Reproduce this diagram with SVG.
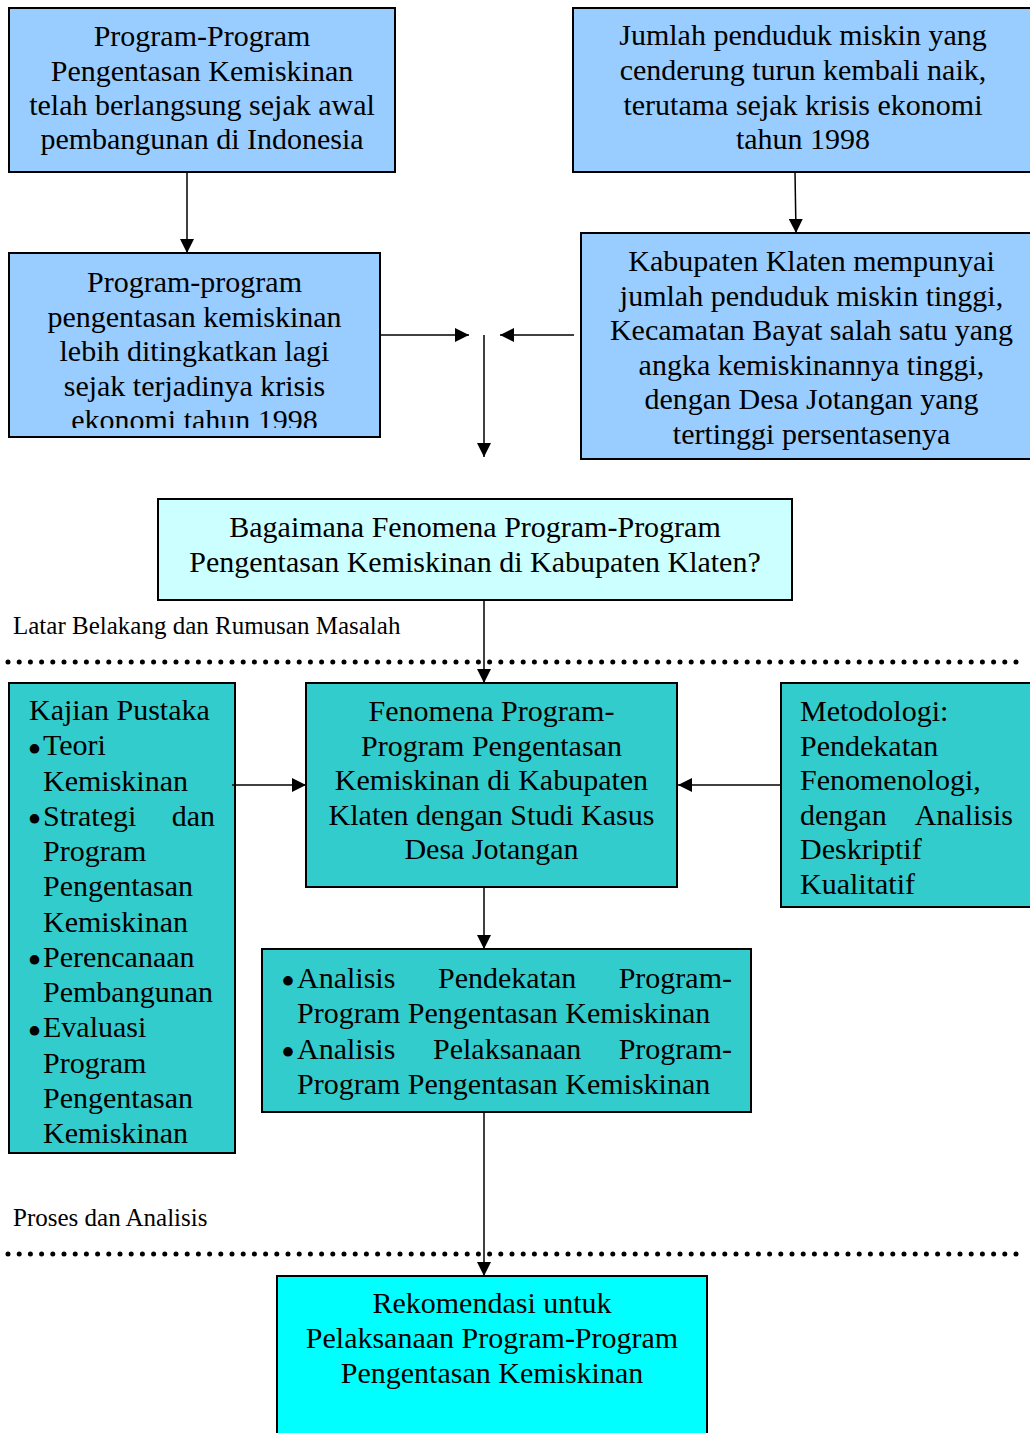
<svg xmlns="http://www.w3.org/2000/svg" width="1030" height="1433" viewBox="0 0 1030 1433">
<style>
.box{stroke:#000;stroke-width:2}
.blue{fill:#99CCFF}
.pale{fill:#CCFFFF}
.teal{fill:#33CCCC}
.cyan{fill:#00FFFF}
text{font-family:"Liberation Serif","Times New Roman",serif;font-size:30px;fill:#000}
.c{text-anchor:middle}
.e{text-anchor:end}
.lbl{font-size:25px}
.b{font-size:40px}
.conn line{stroke:#000;stroke-width:1.5;marker-end:url(#arr)}
.dots{stroke:#000;stroke-width:5;stroke-linecap:round;stroke-dasharray:0 11.2;fill:none}
</style>
<defs>
<marker id="arr" markerUnits="userSpaceOnUse" markerWidth="14" markerHeight="14" viewBox="0 0 14 14" refX="14" refY="7" orient="auto">
<path d="M0,0 L14,7 L0,14 z" fill="#000"/>
</marker>
<clipPath id="clip2"><rect x="9" y="253" width="371" height="175"/></clipPath>
</defs>
<rect width="1030" height="1433" fill="#fff"/>

<g id="n1">
<rect class="box blue" x="9" y="8" width="386" height="164"/>
<text class="c" x="202" y="46">Program-Program</text>
<text class="c" x="202" y="81">Pengentasan Kemiskinan</text>
<text class="c" x="202" y="115">telah berlangsung sejak awal</text>
<text class="c" x="202" y="149">pembangunan di Indonesia</text>
</g>

<g id="n2">
<rect class="box blue" x="9" y="253" width="371" height="184"/>
<g clip-path="url(#clip2)">
<text class="c" x="194.5" y="292">Program-program</text>
<text class="c" x="194.5" y="327">pengentasan kemiskinan</text>
<text class="c" x="194.5" y="361">lebih ditingkatkan lagi</text>
<text class="c" x="194.5" y="396">sejak terjadinya krisis</text>
<text class="c" x="194.5" y="430">ekonomi tahun 1998</text>
</g>
</g>

<g id="n3">
<rect class="box blue" x="573" y="8" width="461" height="164"/>
<text class="c" x="803" y="45">Jumlah penduduk miskin yang</text>
<text class="c" x="803" y="80">cenderung turun kembali naik,</text>
<text class="c" x="803" y="115">terutama sejak krisis ekonomi</text>
<text class="c" x="803" y="149">tahun 1998</text>
</g>

<g id="n4">
<rect class="box blue" x="581" y="233" width="461" height="226"/>
<text class="c" x="811.5" y="271">Kabupaten Klaten mempunyai</text>
<text class="c" x="811.5" y="306">jumlah penduduk miskin tinggi,</text>
<text class="c" x="811.5" y="340">Kecamatan Bayat salah satu yang</text>
<text class="c" x="811.5" y="375">angka kemiskinannya tinggi,</text>
<text class="c" x="811.5" y="409">dengan Desa Jotangan yang</text>
<text class="c" x="811.5" y="444">tertinggi persentasenya</text>
</g>

<g id="n5">
<rect class="box pale" x="158" y="499" width="634" height="101"/>
<text class="c" x="475" y="537">Bagaimana Fenomena Program-Program</text>
<text class="c" x="475" y="572">Pengentasan Kemiskinan di Kabupaten Klaten?</text>
</g>

<g id="label1">
<text class="lbl" x="13" y="634">Latar Belakang dan Rumusan Masalah</text>
<line class="dots" x1="8" y1="662" x2="1020" y2="662"/>
</g>

<g id="n6">
<rect class="box teal" x="9" y="683" width="226" height="470"/>
<text x="29" y="720">Kajian Pustaka</text>
<text class="b" x="27.5" y="762.5">•</text>
<text x="43" y="755.3">Teori</text>
<text x="43" y="790.5">Kemiskinan</text>
<text class="b" x="27.5" y="833">•</text>
<text x="43" y="825.8">Strategi</text>
<text class="e" x="215" y="825.8">dan</text>
<text x="43" y="861">Program</text>
<text x="43" y="896.3">Pengentasan</text>
<text x="43" y="931.5">Kemiskinan</text>
<text class="b" x="27.5" y="974">•</text>
<text x="43" y="966.8">Perencanaan</text>
<text x="43" y="1002">Pembangunan</text>
<text class="b" x="27.5" y="1044.5">•</text>
<text x="43" y="1037.3">Evaluasi</text>
<text x="43" y="1072.5">Program</text>
<text x="43" y="1107.8">Pengentasan</text>
<text x="43" y="1143">Kemiskinan</text>
</g>

<g id="n7">
<rect class="box teal" x="306" y="683" width="371" height="204"/>
<text class="c" x="491.5" y="721">Fenomena Program-</text>
<text class="c" x="491.5" y="755.5">Program Pengentasan</text>
<text class="c" x="491.5" y="790">Kemiskinan di Kabupaten</text>
<text class="c" x="491.5" y="824.5">Klaten dengan Studi Kasus</text>
<text class="c" x="491.5" y="859">Desa Jotangan</text>
</g>

<g id="n8">
<rect class="box teal" x="781" y="683" width="260" height="224"/>
<text x="800" y="721">Metodologi:</text>
<text x="800" y="755.5">Pendekatan</text>
<text x="800" y="790">Fenomenologi,</text>
<text x="800" y="824.5">dengan</text>
<text class="e" x="1013" y="824.5">Analisis</text>
<text x="800" y="859">Deskriptif</text>
<text x="800" y="893.5">Kualitatif</text>
</g>

<g id="n9">
<rect class="box teal" x="262" y="949" width="489" height="163"/>
<text class="b" x="281" y="995">•</text>
<text x="297" y="988">Analisis</text>
<text x="438" y="988">Pendekatan</text>
<text class="e" x="732" y="988">Program-</text>
<text x="297" y="1022.5">Program Pengentasan Kemiskinan</text>
<text class="b" x="281" y="1066">•</text>
<text x="297" y="1059">Analisis</text>
<text x="433" y="1059">Pelaksanaan</text>
<text class="e" x="732" y="1059">Program-</text>
<text x="297" y="1093.5">Program Pengentasan Kemiskinan</text>
</g>

<g id="label2">
<text class="lbl" x="13" y="1226">Proses dan Analisis</text>
<line class="dots" x1="8" y1="1254" x2="1020" y2="1254"/>
</g>

<g id="n10">
<rect class="box cyan" x="277" y="1276" width="430" height="170"/>
<text class="c" x="492" y="1313">Rekomendasi untuk</text>
<text class="c" x="492" y="1348">Pelaksanaan Program-Program</text>
<text class="c" x="492" y="1382.5">Pengentasan Kemiskinan</text>
</g>

<g id="connectors" class="conn">
<line x1="187" y1="172" x2="187" y2="253"/>
<line x1="795" y1="172" x2="796" y2="233"/>
<line x1="380" y1="335" x2="469" y2="335"/>
<line x1="574" y1="335" x2="500" y2="335"/>
<line x1="484" y1="335" x2="484" y2="457"/>
<line x1="484" y1="600" x2="484" y2="683"/>
<line x1="232" y1="785" x2="306" y2="785"/>
<line x1="781" y1="785" x2="678" y2="785"/>
<line x1="484" y1="887" x2="484" y2="949"/>
<line x1="484" y1="1112" x2="484" y2="1276"/>
</g>
</svg>
